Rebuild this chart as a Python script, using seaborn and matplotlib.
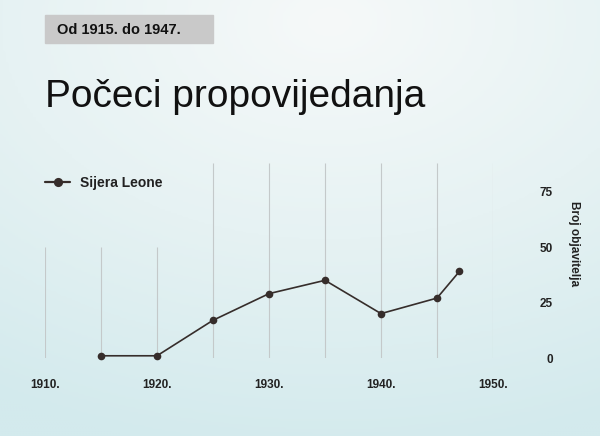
import numpy as np
import pandas as pd
import matplotlib
matplotlib.use("Agg")
import matplotlib.pyplot as plt
import seaborn as sns
from matplotlib.colors import LinearSegmentedColormap

# ---- data ----
years = [1915, 1920, 1925, 1930, 1935, 1940, 1945, 1947]
publishers = [1, 1, 17, 29, 35, 20, 27, 39]
series_name = "Sijera Leone"
x_ticks = [1910, 1920, 1930, 1940, 1950]
x_tick_labels = ["1910.", "1920.", "1930.", "1940.", "1950."]
y_ticks = [0, 25, 50, 75]
y_tick_labels = ["0", "25", "50", "75"]
grid_years = [1910, 1915, 1920, 1925, 1930, 1935, 1940, 1945, 1950]
title = "Počeci propovijedanja"
subtitle = "Od 1915. do 1947."
y_label = "Broj objavitelja"

sns.set_theme(style="white")
plt.rcParams["font.family"] = ["Liberation Sans", "DejaVu Sans"]

W, H = 600, 436
fig = plt.figure(figsize=(W / 100, H / 100), dpi=100)

# background gradient
bg = fig.add_axes([0, 0, 1, 1])
bg.set_axis_off()
yy, xx = np.mgrid[0:1:200j, 0:1:200j]
d = np.sqrt(((xx - 0.55) / 1.1) ** 2 + ((yy - 0.05) / 1.0) ** 2)
cmap = LinearSegmentedColormap.from_list("bgc", ["#f6f9f9", "#e6f2f3", "#d3eaed"])
bg.imshow(d, cmap=cmap, extent=[0, 1, 0, 1], origin="upper", aspect="auto",
          vmin=0.0, vmax=1.0)
bg.set_xlim(0, 1)
bg.set_ylim(0, 1)

# main axes
x0_px, x1_px = 45, 493
y0_px, y1_px = 358, 162.7
ax = fig.add_axes([x0_px / W, (H - y0_px) / H, (x1_px - x0_px) / W, (y0_px - y1_px) / H])
ax.patch.set_alpha(0)
ax.set_xlim(1910, 1950)
ax.set_ylim(0, 88)
for s in ax.spines.values():
    s.set_visible(False)

tops = [50 if g <= 1920 else 88 for g in grid_years]
ax.vlines(grid_years, 0, tops, color="#c4c9ca", linewidth=0.8, zorder=1)

df = pd.DataFrame({"year": years, "value": publishers})
sns.lineplot(data=df, x="year", y="value", ax=ax, color="#362d2b", linewidth=1.2,
             marker="o", markersize=5.5, markeredgewidth=0, label=series_name, zorder=3,
             clip_on=False)

ax.set_xticks(x_ticks)
ax.set_xticklabels(x_tick_labels, fontsize=8.5, fontweight="bold", color="#222222")
ax.tick_params(axis="x", length=0, pad=15)
ax.yaxis.tick_right()
ax.set_yticks(y_ticks)
ax.set_yticklabels(y_tick_labels, fontsize=8.5, fontweight="bold", color="#222222")
for lbl in ax.get_yticklabels():
    lbl.set_horizontalalignment("right")
ax.tick_params(axis="y", length=0, pad=43)
ax.set_xlabel("")
ax.set_ylabel("")

fig.text(574 / W, 1 - 244 / H, y_label, rotation=-90, ha="center", va="center",
         fontsize=8.5, color="#222222", fontweight="semibold")

leg = ax.legend(loc="center left", bbox_to_anchor=(-0.012, (183 - 358) / (162.7 - 358)),
                frameon=False, handlelength=1.8, handletextpad=0.7, borderaxespad=0,
                markerscale=1.2, prop={"size": 10, "weight": "bold"})
for t in leg.get_texts():
    t.set_color("#222222")
for h in leg.legend_handles:
    h.set_linewidth(1.6)

# subtitle box
fig.patches.append(plt.Rectangle((45 / W, 1 - 43 / H), 168 / W, 28 / H,
                                 transform=fig.transFigure, color="#c9c9c9", zorder=0))
fig.text(57 / W, 1 - 29.5 / H, subtitle, ha="left", va="center", fontsize=10.5,
         fontweight="bold", color="#111111")

fig.text(45 / W, 1 - 107 / H, title, ha="left", va="baseline", fontsize=28,
         color="#111111", family=["Liberation Sans Narrow", "Liberation Sans", "DejaVu Sans"])

fig.savefig("out.png", dpi=100)
